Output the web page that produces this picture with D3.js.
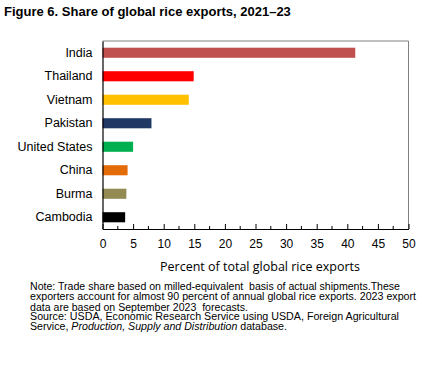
<!DOCTYPE html>
<html><head><meta charset="utf-8">
<script src="https://cdn.jsdelivr.net/npm/d3@7"></script>
<style>body{margin:0;background:#fff}svg{display:block}</style>
</head><body><svg id="c" width="438" height="372"></svg>
<script>
const categories = ["India","Thailand","Vietnam","Pakistan","United States","China","Burma","Cambodia"];
const shares = [41.3, 14.9, 14.1, 8.0, 5.0, 4.1, 3.9, 3.7];
const colors = ["#C0504D","#FF0000","#FFC000","#1F3864","#00B050","#E36C09","#948A54","#000000"];
const xTicks = [0,5,10,15,20,25,30,35,40,45,50];
const minorTicks = [2.5,7.5,12.5,17.5,22.5,27.5,32.5,37.5,42.5,47.5];
const title = "Figure 6. Share of global rice exports, 2021\u201323";
const xTitle = "Percent of total global rice exports";

const svg = d3.select("#c");
const L = 102.5, R = 408.5, T = 41, B = 229;
const x = d3.scaleLinear().domain([0,50]).range([L,R]);
const y = d3.scaleBand().domain(categories).range([T,B]).paddingInner(0.57).paddingOuter(0.285);

svg.append("text").attr("x",4).attr("y",16).text(title)
  .attr("font-family","Liberation Sans, Arial, sans-serif").attr("font-weight","bold").attr("font-size",13).attr("fill","#000");

// frame top/right
svg.append("path").attr("d",`M${L},${T}H${R}V${B}`).attr("fill","none").attr("stroke","#808080").attr("stroke-width",1);

svg.selectAll("rect.bar").data(categories).join("rect").attr("class","bar")
  .attr("x",x(0)).attr("y",d=>y(d)).attr("height",y.bandwidth())
  .attr("width",(d,i)=>x(shares[i])-x(0)).attr("fill",(d,i)=>colors[i]);

// y axis
const ya = svg.append("g").attr("transform",`translate(${L},0)`).call(d3.axisLeft(y).tickSize(0).tickPadding(10));
ya.select(".domain").attr("stroke","#000").attr("stroke-width",1.2);
ya.selectAll("text").attr("font-family","Liberation Sans, Arial, sans-serif").attr("font-size",12.5).attr("fill","#000");

// x axis
const xa = svg.append("g").attr("transform",`translate(0,${B})`)
  .call(d3.axisBottom(x).tickValues(xTicks).tickSizeInner(-5).tickSizeOuter(0).tickPadding(10));
xa.select(".domain").attr("stroke","#000").attr("stroke-width",1.2);
xa.selectAll(".tick line").attr("stroke","#000");
xa.selectAll("text").attr("font-family","Liberation Sans, Arial, sans-serif").attr("font-size",12).attr("fill","#000");
svg.append("g").selectAll("line").data(minorTicks).join("line")
  .attr("x1",d=>x(d)).attr("x2",d=>x(d)).attr("y1",B).attr("y2",B-3).attr("stroke","#000");

svg.append("text").attr("x",260).attr("y",271).attr("text-anchor","middle").text(xTitle)
  .attr("font-family","Open Sans, sans-serif").attr("font-size",12.5).attr("fill","#000");

const noteFont = "Liberation Sans, Arial, sans-serif";
const notes = [
  {y:289.5, w:370, parts:[["Note: Trade share based on milled-equivalent  basis of actual shipments.These",false]]},
  {y:300, w:386, parts:[["exporters account for almost 90 percent of annual global rice exports. 2023 export",false]]},
  {y:310.5, w:218, parts:[["data are based on September 2023  forecasts.",false]]},
  {y:320, w:369, parts:[["Source: USDA, Economic Research Service using USDA, Foreign Agricultural",false]]},
  {y:329.5, w:257, parts:[["Service, ",false],["Production, Supply and Distribution",true],[" database.",false]]}
];
notes.forEach(n=>{
  const t = svg.append("text").attr("x",30).attr("y",n.y).attr("font-family",noteFont).attr("font-size",10)
    .attr("fill","#000").attr("textLength",n.w).attr("lengthAdjust","spacingAndGlyphs").attr("xml:space","preserve");
  n.parts.forEach(p=>t.append("tspan").text(p[0]).attr("font-style",p[1]?"italic":"normal"));
});
</script></body></html>
